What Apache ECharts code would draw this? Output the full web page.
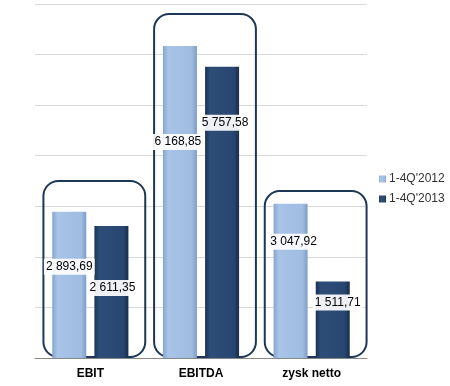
<!DOCTYPE html>
<html><head><meta charset="utf-8">
<script src="https://cdn.jsdelivr.net/npm/echarts@6/dist/echarts.min.js"></script>
<style>html,body{margin:0;padding:0;background:#fff}#c{width:450px;height:386px}</style>
</head><body><div id="c"></div>
<script>
var categories = ['EBIT', 'EBITDA', 'zysk netto'];
var seriesNames = ["1-4Q'2012", "1-4Q'2013"];
var values2012 = [2893.69, 6168.85, 3047.92];
var values2013 = [2611.35, 5757.58, 1511.71];
var boxTops = [3500, 6800, 3300];
var yMax = 7000, yInterval = 1000;

// label nudges (style only)
var off2012 = [[0, 42], [-2, 83], [3, 25]];
var off2013 = [[1, 49], [3, 43], [5, 8]];

function fmt(v) {
  var parts = v.toFixed(2).split('.');
  return parts[0].replace(/\B(?=(\d{3})+(?!\d))/g, ' ') + ',' + parts[1];
}
var FONT = '"Liberation Sans", Arial, sans-serif';
var lightGrad = new echarts.graphic.LinearGradient(0, 0, 1, 0, [
  {offset: 0, color: '#86a4ce'}, {offset: 0.15, color: '#a8c4e7'},
  {offset: 0.85, color: '#9fbce2'}, {offset: 1, color: '#7e9cc6'}]);
var darkGrad = new echarts.graphic.LinearGradient(0, 0, 1, 0, [
  {offset: 0, color: '#1b3253'}, {offset: 0.15, color: '#2d4d78'},
  {offset: 0.85, color: '#284670'}, {offset: 1, color: '#182d4b'}]);

function barData(vals, offs) {
  return vals.map(function (v, i) {
    return {value: v, label: {offset: offs[i]}};
  });
}
var labelStyle = {
  show: true, position: 'insideTop', color: '#000', fontFamily: FONT, fontSize: 12,
  backgroundColor: 'rgba(255,255,255,0.92)', padding: [2, 2],
  formatter: function (p) { return fmt(p.value); }
};

var chart = echarts.init(document.getElementById('c'), null, {renderer: 'canvas'});
chart.setOption({
  animation: false,
  grid: {left: 35, right: 83, top: 4, bottom: 28},
  legend: {
    orient: 'vertical', left: 374, top: 168, itemWidth: 7, itemHeight: 7, itemGap: 8,
    icon: 'rect', data: seriesNames,
    textStyle: {fontFamily: FONT, fontSize: 12, color: '#333', padding: [0, 0, 0, -2]}
  },
  xAxis: {
    type: 'category', data: categories,
    axisLine: {lineStyle: {color: '#888', width: 1}},
    axisTick: {show: false},
    axisLabel: {fontFamily: FONT, fontSize: 12, fontWeight: 'bold', color: '#000', margin: 10}
  },
  yAxis: {
    type: 'value', min: 0, max: yMax, interval: yInterval,
    axisLabel: {show: false}, axisLine: {show: false}, axisTick: {show: false},
    splitLine: {lineStyle: {color: '#d9d9d9'}}
  },
  series: [
    {
      type: 'custom', name: 'box', z: 1, silent: true,
      data: boxTops.map(function (t, i) { return [i, t]; }),
      renderItem: function (params, api) {
        var top = api.coord([api.value(0), api.value(1)]);
        var bottom = api.coord([api.value(0), 0]);
        var band = api.size([1, 0])[0];
        var w = band * 0.92;
        var x = top[0] - w / 2 + 4;
        return {
          type: 'rect',
          shape: {x: x, y: top[1], width: w, height: bottom[1] - top[1] - 1, r: 15},
          style: {fill: 'none', stroke: '#1f3757', lineWidth: 2}
        };
      }
    },
    {
      type: 'bar', name: seriesNames[0], z: 2, barWidth: 34, barGap: '24%',
      itemStyle: {color: lightGrad}, data: barData(values2012, off2012), label: labelStyle
    },
    {
      type: 'bar', name: seriesNames[1], z: 2, barWidth: 34, barGap: '24%',
      itemStyle: {color: darkGrad}, data: barData(values2013, off2013), label: labelStyle
    }
  ]
});
</script></body></html>
